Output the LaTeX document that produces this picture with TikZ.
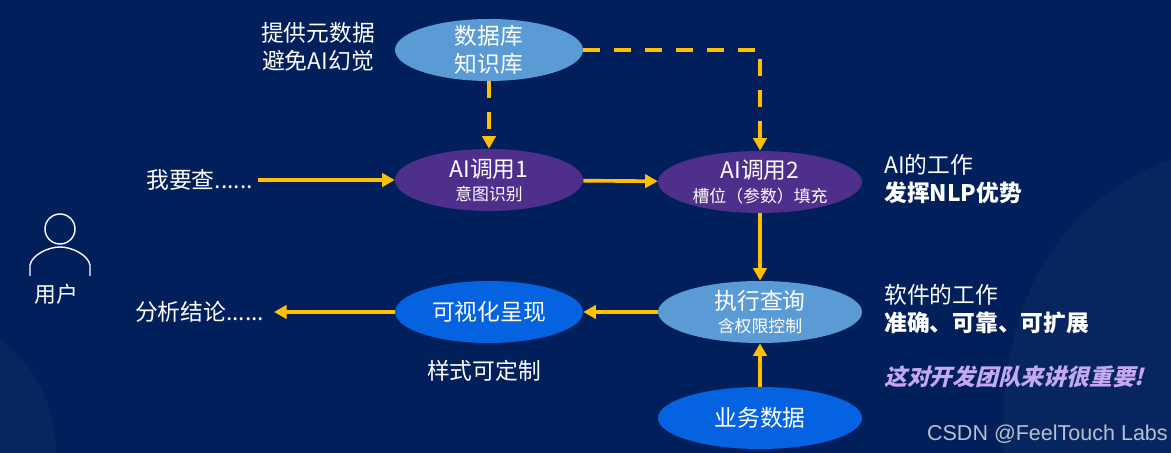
\documentclass[tikz,border=0pt]{standalone}
\usepackage{fontspec}
\setmainfont{Noto Sans CJK SC}
\newfontfamily\slantcjk[FakeSlant=0.25]{Noto Sans CJK SC}
\newfontfamily\markfont{Liberation Sans}
\usepackage{xcolor}
\usetikzlibrary{arrows.meta, shapes.geometric}
\definecolor{navybg}{HTML}{011F5B}
\definecolor{navyblob}{HTML}{07265F}
\definecolor{skyfill}{HTML}{5B9BD5}
\definecolor{purplefill}{HTML}{4F2F8C}
\definecolor{bluefill}{HTML}{0563E1}
\definecolor{arrowgold}{HTML}{FFC000}
\definecolor{lavender}{HTML}{C4A8F0}
\newcommand{\subtxt}{\fontsize{12}{13}\selectfont}

\begin{document}
\begin{tikzpicture}[
  oval/.style={ellipse, inner sep=0pt, align=center, text=white,
    font=\fontsize{16.2}{19.5}\selectfont},
  narrowoval/.style={oval, minimum width=4.7cm, minimum height=1.55cm},
  wideoval/.style={oval, minimum width=5.1cm, minimum height=1.55cm},
  lbl/.style={align=left, text=white, inner sep=0pt,
    font=\fontsize{16.2}{19.5}\selectfont},
  arr/.style={-{Triangle[length=9pt, width=9.5pt]}, line width=2.6pt, arrowgold},
  dasharr/.style={arr, dash pattern=on 12pt off 10pt},
]
\useasboundingbox (0,0) rectangle (29.275,11.325);

% Background
\fill[navybg] (0,0) rectangle (29.275,11.325);
\fill[navyblob] (29.275,7.35) .. controls (26.5,6.3) and (24.9,3.8) .. (25.1,0)
  -- (29.275,0) -- cycle;
\fill[navyblob] (0,2.85) .. controls (1.0,2.1) and (1.4,1.0) .. (1.4,0) -- (0,0) -- cycle;

% Top row
\node[narrowoval, fill=skyfill, inner sep=-4pt] (db) at (12.225,10.075) {数据库\\知识库};
\node[lbl, align=center] (meta) at (7.95,10.15) {提供元数据\\避免AI幻觉};
\coordinate (corner) at (19,10.075);

% Middle row
\node[narrowoval, fill=purplefill] (ai1) at (12.225,6.825) {AI调用1\\[-3pt]{\subtxt 意图识别}};
\node[wideoval, fill=purplefill] (ai2) at (19,6.775) {AI调用2\\[-3pt]{\subtxt 槽位（参数）填充}};
\node[lbl, outer sep=3.5pt] (ask) at (4.99,6.825) {我要查......};
\node[lbl, anchor=west] (aiwork) at (22.1,6.85) {AI的工作\\\textbf{发挥NLP优势}};

% Lower row
\node[wideoval, fill=skyfill] (exec) at (19,3.525) {执行查询\\[-3pt]{\subtxt 含权限控制}};
\node[narrowoval, fill=bluefill] (vis) at (12.225,3.525) {可视化呈现};
\node[lbl, outer sep=7pt] (result) at (4.99,3.525) {分析结论......};
\node[lbl] (style) at (12.1,2.05) {样式可定制};
\node[lbl, anchor=west] (swwork) at (22.1,3.6) {软件的工作\\\textbf{准确、可靠、可扩展}};
\node[lbl, anchor=west, text=lavender, font=\fontsize{16.2}{19.5}\slantcjk\bfseries] (team) at (22.1,1.9) {这对开发团队来讲很重要!};

% Bottom row
\node[wideoval, fill=bluefill] (biz) at (19,0.875) {业务数据};
\node[inner sep=0pt, text=white!72!navybg, font=\fontsize{15.3}{18}\markfont, anchor=east] (mark) at (29.2,0.47) {CSDN @FeelTouch Labs};

% User icon
\node[lbl, font=\fontsize{15.5}{18}\selectfont] (user) at (1.4,3.98) {用户};
\node[circle, draw=white, line width=1pt, minimum size=0.75cm, inner sep=0pt] (head) at (1.5,5.6) {};
\draw[white, line width=1pt] (0.75,4.425) -- (0.75,4.7) .. controls (0.8,4.95) and (1.2,5.15) .. (1.5,5.15)
  .. controls (1.8,5.15) and (2.2,4.95) .. (2.25,4.7) -- (2.25,4.425);

% Arrows
\draw[dasharr] (db) -- (ai1);
\draw[dasharr] (db) -- (corner) -- (ai2);
\draw[arr] (ask) -- (ai1);
\draw[arr] (ai1) -- (ai2);
\draw[arr] (ai2) -- (exec);
\draw[arr] (exec) -- (vis);
\draw[arr] (vis) -- (result);
\draw[arr] (biz) -- (exec);

\end{tikzpicture}
\end{document}
